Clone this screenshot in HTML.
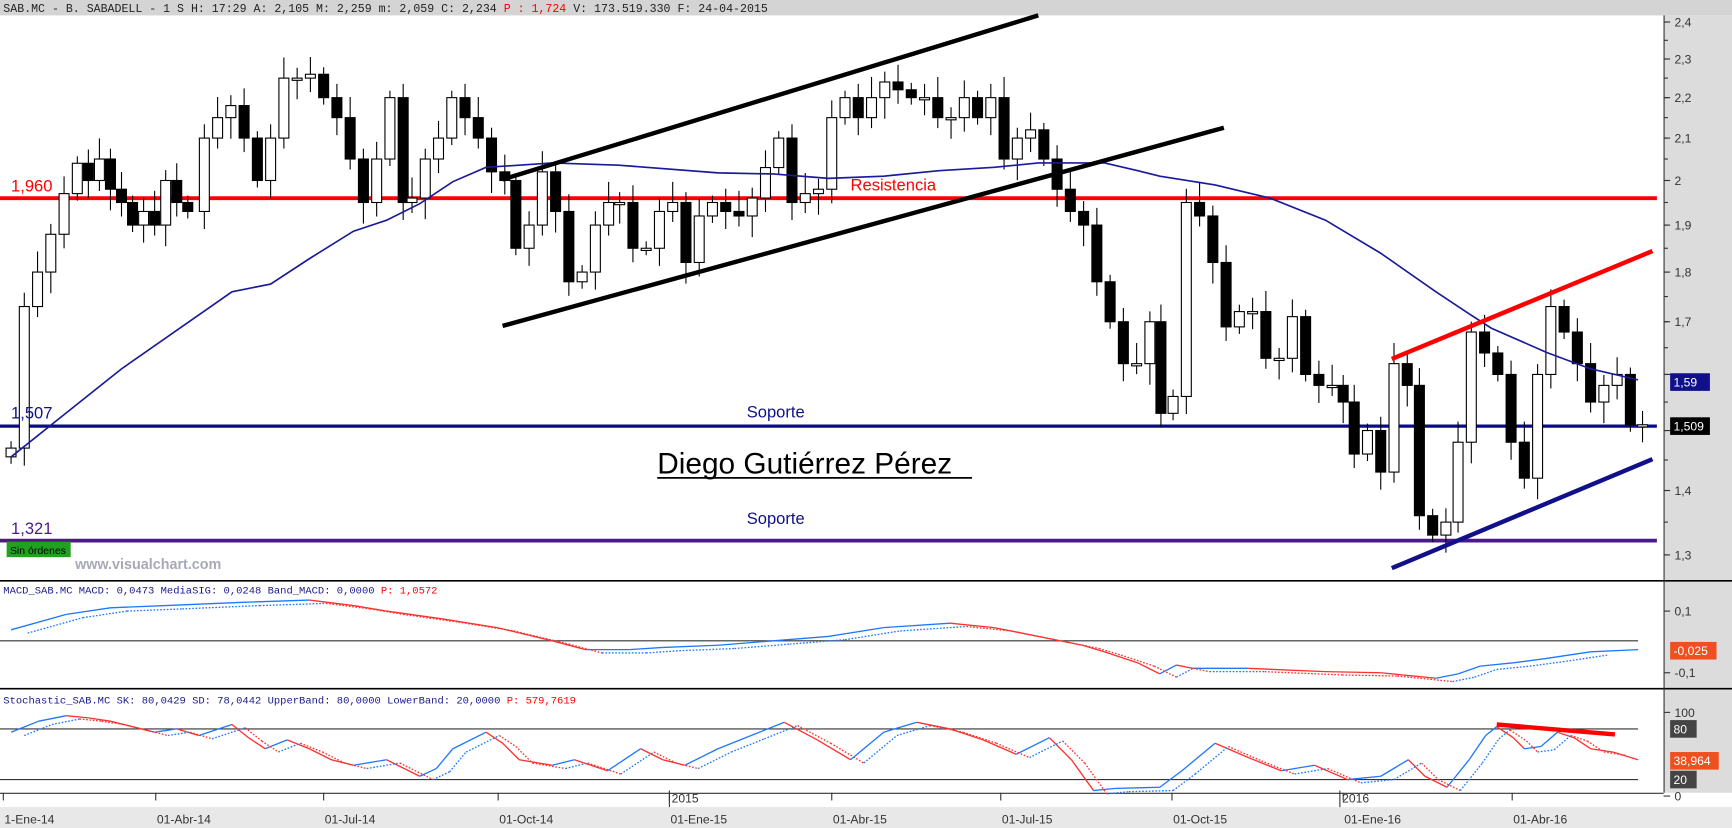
<!DOCTYPE html>
<html><head><meta charset="utf-8"><style>
html,body{margin:0;padding:0;background:#fff;overflow:hidden}
svg{display:block}
</style></head><body>
<svg id="s" xmlns="http://www.w3.org/2000/svg" width="1732" height="828" viewBox="0 0 1568 752" preserveAspectRatio="none" font-family="Liberation Sans, sans-serif">
<rect x="0" y="0" width="1568" height="752" fill="#fff"/>
<rect x="0" y="0" width="1568" height="14" fill="#d4d4d4"/>
<text x="3" y="11" font-family="Liberation Mono, monospace" font-size="10.5" fill="#222">SAB.MC - B. SABADELL -  1 S H: 17:29 A: 2,105 M: 2,259 m: 2,059 C: 2,234 <tspan fill="#f00">P : 1,724</tspan> V: 173.519.330 F: 24-04-2015</text>
<rect x="1506" y="14" width="62" height="706" fill="#dcdcdc"/>
<rect x="0" y="733" width="1568" height="19" fill="#e8e8e8"/>
<line x1="0" y1="527.5" x2="1568" y2="527.5" stroke="#000" stroke-width="1.5"/>
<line x1="0" y1="625.5" x2="1568" y2="625.5" stroke="#000" stroke-width="1.5"/>
<line x1="1506.5" y1="14" x2="1506.5" y2="720" stroke="#333"/>
<line x1="0" y1="720.5" x2="1506" y2="720.5" stroke="#333"/>
<g id="g"></g>
</svg>
<script>
var g=document.getElementById('g'),h='';
function L(a,b,c,d,col,w,extra){h+='<line x1="'+a+'" y1="'+b+'" x2="'+c+'" y2="'+d+'" stroke="'+col+'" stroke-width="'+w+'" '+(extra||'')+'/>';}
function T(x,y,t,col,sz,extra){h+='<text x="'+x+'" y="'+y+'" fill="'+col+'" font-size="'+sz+'" '+(extra||'')+'>'+t+'</text>';}
function Y(p){return 20+(Math.log(2.4)-Math.log(p))*789.4;}
var labs=[2.4,2.3,2.2,2.1,2,1.9,1.8,1.7,1.6,1.5,1.4,1.3];
labs.forEach(function(p){var y=Y(p);L(1506,y,1512,y,'#333',1);if(p!=1.6&&p!=1.5)T(1516,y+4,String(p).replace('.',','),'#333',11);});
for(var p=1.25;p<2.45;p+=0.05){var y=Y(p);if(y>16&&y<525)L(1506,y,1510,y,'#333',1);}
L(0,180,1500,180,'#f00',3.5);
L(0,387,1500,387,'#0a0a8a',3);
L(0,491,1500,491,'#4b1a8a',3.5);
var k=[[10,1.47],[22,1.73],[34,1.8],[46,1.88],[58,1.97],[70,2.04],[80,2.0],[90,2.05],[100,1.98],[110,1.95],[120,1.9],[130,1.93],[140,1.9],[150,2.0],[160,1.95],[170,1.93],[185,2.1],[197,2.15],[209,2.18],[221,2.1],[233,2.0],[245,2.1],[257,2.25],[269,2.25],[281,2.26],[293,2.2],[305,2.15],[317,2.05],[329,1.95],[341,2.05],[353,2.2],[365,1.95],[373,1.96],[385,2.05],[397,2.1],[409,2.2],[421,2.15],[433,2.1],[445,2.02],[457,2.0],[467,1.85],[479,1.9],[491,2.02],[503,1.93],[515,1.78],[527,1.8],[539,1.9],[551,1.95],[561,1.95],[573,1.85],[585,1.85],[597,1.93],[609,1.95],[621,1.82],[633,1.92],[645,1.95],[657,1.93],[669,1.92],[681,1.96],[693,2.03],[705,2.1],[717,1.95],[729,1.97],[741,1.98],[753,2.15],[765,2.2],[777,2.15],[789,2.2],[801,2.24],[813,2.22],[825,2.2],[837,2.2],[849,2.15],[861,2.15],[873,2.2],[885,2.15],[897,2.2],[909,2.05],[921,2.1],[933,2.12],[945,2.05],[957,1.98],[969,1.93],[981,1.9],[993,1.78],[1005,1.7],[1017,1.62],[1029,1.62],[1041,1.7],[1051,1.53],[1062,1.56],[1074,1.95],[1086,1.92],[1098,1.82],[1110,1.69],[1122,1.72],[1134,1.72],[1146,1.63],[1158,1.63],[1170,1.71],[1182,1.6],[1194,1.58],[1206,1.58],[1216,1.55],[1226,1.46],[1238,1.5],[1250,1.43],[1262,1.62],[1274,1.58],[1285,1.36],[1297,1.33],[1309,1.35],[1320,1.48],[1332,1.68],[1344,1.64],[1356,1.6],[1368,1.48],[1380,1.42],[1392,1.6],[1404,1.73],[1416,1.68],[1428,1.62],[1440,1.55],[1452,1.58],[1464,1.6],[1476,1.51],[1487,1.51]];
var prev=k[0][1]*0.99;
k.forEach(function(c,i){var o=prev,cl=c[1];var hi=Math.max(o,cl)*(1+0.008+0.016*((i*7)%5)/4),lo=Math.min(o,cl)*(1-0.008-0.016*((i*3)%5)/4);
var x=c[0];L(x,Y(hi),x,Y(lo),'#000',1);
var yt=Y(Math.max(o,cl)),yb=Y(Math.min(o,cl));if(yb-yt<2)yb=yt+2;
h+='<rect x="'+(x-4.5)+'" y="'+yt+'" width="9" height="'+(yb-yt)+'" fill="'+(cl>=o?'#fff':'#000')+'" stroke="#000" stroke-width="1"/>';prev=cl;});
h+='<polyline fill="none" stroke="#1a1a9a" stroke-width="1.5" points="10,415 60,375 110,335 160,300 210,265 245,258 280,235 320,210 350,200 380,185 410,165 440,152 470,150 500,148 560,150 650,157 700,158 750,162 800,160 850,155 900,152 940,148 1000,148 1030,155 1050,160 1100,168 1150,180 1200,200 1250,230 1300,265 1330,285 1350,298 1400,320 1440,335 1483,345"/>';
L(455,163,940,14,'#000',4);L(455,296,1108,116,'#000',4);
L(1260,326,1496,228,'#f00',4);L(1260,516,1496,417,'#10108a',4);
T(10,174,'1,960','#f00',15);T(770,173,'Resistencia','#f00',15);
T(10,380,'1,507','#10108a',15);T(676,379,'Soporte','#10108a',15);
T(595,430,'Diego Gutiérrez Pérez','#000',27);L(595,434,880,434,'#000',1.5);
T(10,485,'1,321','#4b1a8a',15);T(676,476,'Soporte','#10108a',15);
h+='<rect x="6" y="492" width="58" height="14" fill="#22a022"/>';T(9,503,'Sin órdenes','#000',9.5);
T(68,517,'www.visualchart.com','#a8a8b8',13,'font-weight="bold"');
h+='<rect x="1512" y="339" width="36" height="16" fill="#10108a"/>';T(1515,351,'1,59','#fff',11);
h+='<rect x="1512" y="379" width="36" height="16" fill="#000"/>';T(1515,391,'1,509','#fff',11);
T(3,539,'MACD_SAB.MC MACD: 0,0473 MediaSIG: 0,0248 Band_MACD: 0,0000 <tspan fill="#f00">P: 1,0572</tspan>','#1a1a8a',9.5,'font-family="Liberation Mono, monospace"');
L(0,582,1483,582,'#333',1);
[[555,'0,1'],[611,'-0,1']].forEach(function(a){L(1506,a[0],1512,a[0],'#333',1);T(1516,a[0]+4,a[1],'#333',11);});
h+='<rect x="1512" y="583" width="42" height="16" fill="#f05020"/>';T(1515,595,'-0,025','#fff',11);
function series(pts,dash,shift){for(var i=1;i<pts.length;i++){var a=pts[i-1],b=pts[i];var col=b[1]<=a[1]?'#1e78ff':'#ff3030';L(a[0],a[1]+shift,b[0],b[1]+shift,col,1.2,dash?'stroke-dasharray="1.5,1.5"':'');}}
var macd=[[10,572],[60,558],[100,552],[150,550],[220,547],[280,545],[320,550],[350,555],[400,562],[450,570],[500,582],[530,590],[570,590],[600,588],[650,586],[700,582],[750,578],[800,570],[860,566],[900,570],[950,580],[980,586],[1000,592],[1030,602],[1050,612],[1065,604],[1080,607],[1130,607],[1200,610],[1250,611],[1280,614],[1300,616],[1320,612],[1340,605],[1370,602],[1400,598],[1440,592],[1483,590]];
series(macd,false,0);series(macd.map(function(p){return [p[0]+15,p[1]]}).slice(0,-1),true,3);
T(3,639,'Stochastic_SAB.MC SK: 80,0429 SD: 78,0442 UpperBand: 80,0000 LowerBand: 20,0000 <tspan fill="#f00">P: 579,7619</tspan>','#1a1a8a',9.5,'font-family="Liberation Mono, monospace"');
L(0,662,1483,662,'#333',1);L(0,708,1483,708,'#333',1);
[[647,'100'],[723,'0']].forEach(function(a){L(1506,a[0],1512,a[0],'#333',1);T(1516,a[0]+4,a[1],'#333',11);});
h+='<rect x="1512" y="654" width="24" height="16" fill="#444"/>';T(1515,666,'80','#fff',11);
h+='<rect x="1512" y="700" width="24" height="16" fill="#444"/>';T(1515,712,'20','#fff',11);
h+='<rect x="1512" y="683" width="44" height="16" fill="#f05020"/>';T(1515,695,'38,964','#fff',11);
var st=[[10,665],[35,655],[60,650],[80,652],[100,655],[120,660],[140,665],[160,662],[180,668],[210,658],[225,670],[240,680],[260,672],[280,680],[300,690],[320,695],[350,690],[380,705],[395,698],[410,680],[440,665],[455,675],[470,690],[500,695],[520,690],[550,700],[580,680],[600,690],[620,695],[650,680],[680,668],[710,656],[740,672],[770,690],[800,665],[830,656],[860,662],[890,672],[920,685],[950,670],[970,690],[990,718],[1010,716],[1050,715],[1070,700],[1100,675],[1130,688],[1160,700],[1190,695],[1220,708],[1250,705],[1275,690],[1290,705],[1310,715],[1330,690],[1345,668],[1355,660],[1370,670],[1380,680],[1395,678],[1410,665],[1425,670],[1440,680],[1460,683],[1483,690]];
series(st,false,0);series(st.map(function(p){return [p[0]+12,p[1]]}).slice(0,-1),true,3);
L(1355,658,1462,667,'#f00',4);
[[2,'1-Ene-14'],[140,'01-Abr-14'],[292,'01-Jul-14'],[450,'01-Oct-14'],[605,'01-Ene-15'],[752,'01-Abr-15'],[905,'01-Jul-15'],[1060,'01-Oct-15'],[1215,'01-Ene-16'],[1368,'01-Abr-16']].forEach(function(a){L(a[0]+1,720,a[0]+1,727,'#333',1);T(a[0]+2,748,a[1],'#333',11);});
L(606,718,606,733,'#333',1);T(608,729,'2015','#333',11);
L(1213,718,1213,733,'#333',1);T(1215,729,'2016','#333',11);
g.innerHTML=h;
</script>
</body></html>
